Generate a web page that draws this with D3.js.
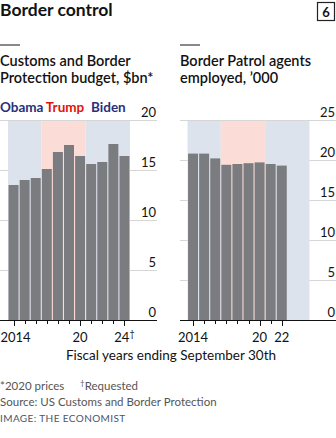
<!DOCTYPE html>
<html>
<head>
<meta charset="utf-8">
<script src="https://cdn.jsdelivr.net/npm/d3@7"></script>
<style>
  body { margin: 0; background: #fff; }
  svg text { font-family: Lato, "Noto Sans", sans-serif; }
</style>
</head>
<body>
<svg id="chart" width="336" height="438"></svg>
<script>
// data
var years = [2014, 2015, 2016, 2017, 2018, 2019, 2020, 2021, 2022, 2023, 2024];
var budget = [13.5, 14.0, 14.2, 15.1, 16.8, 17.5, 16.4, 15.6, 15.8, 17.6, 16.4];
var agentYears = [2014, 2015, 2016, 2017, 2018, 2019, 2020, 2021, 2022];
var agents = [20.8, 20.8, 20.2, 19.4, 19.5, 19.6, 19.7, 19.5, 19.3];
var termNames = ["Obama", "Trump", "Biden"];
var termFrom = [2014, 2017, 2021];
var termTo = [2016, 2020, 2024];
var budgetTicks = [0, 5, 10, 15, 20];
var agentTicks = [0, 5, 10, 15, 20, 25];
var budgetXLabels = {2014: "2014", 2020: "20", 2024: "24"};
var agentXLabels = {2014: "2014", 2020: "20", 2022: "22"};

var bandFill = {Obama: "#dde3ed", Trump: "#fbdcd6", Biden: "#dde3ed"};
var nameColor = {Obama: "#28307a", Trump: "#e3120b", Biden: "#28307a"};

var svg = d3.select("#chart");

// header
svg.append("text").attr("x", 0).attr("y", 16)
  .attr("font-size", 17.5).attr("font-weight", 700).attr("fill", "#121212")
  .text("Border control");
svg.append("rect").attr("x", 317.5).attr("y", 2.5).attr("width", 17).attr("height", 18)
  .attr("fill", "none").attr("stroke", "#222").attr("stroke-width", 1.2);
svg.append("text").attr("x", 326).attr("y", 16.5).attr("text-anchor", "middle")
  .attr("font-size", 13).attr("font-weight", 700).attr("fill", "#121212").text("6");

// panel subtitles
function subtitle(x, lines) {
  svg.append("line").attr("x1", x).attr("x2", x + 20).attr("y1", 45).attr("y2", 45)
    .attr("stroke", "#121212").attr("stroke-width", 1);
  lines.forEach(function(l, i) {
    svg.append("text").attr("x", x).attr("y", 66 + i * 17)
      .attr("font-size", 14.5).attr("font-weight", 600).attr("fill", "#121212").text(l);
  });
}
subtitle(0, ["Customs and Border", "Protection budget, $bn*"]);
subtitle(180, ["Border Patrol agents", "employed, \u2019000"]);

function panel(opts) {
  var x = d3.scaleBand().domain(years).range(opts.xr).paddingInner(0.1).paddingOuter(0.05);
  var y = d3.scaleLinear().domain([0, d3.max(opts.ticks)]).range([320, 120]);
  var step = x.step();
  var g = svg.append("g");

  // gridlines
  g.selectAll(".grid").data(opts.ticks.filter(function(t) { return t > 0; }))
    .enter().append("line")
    .attr("x1", opts.gx[0]).attr("x2", opts.gx[1])
    .attr("y1", function(d) { return y(d) + 0.5; }).attr("y2", function(d) { return y(d) + 0.5; })
    .attr("stroke", "#d6d6d6").attr("stroke-width", 1);

  // presidential terms
  termNames.forEach(function(n, i) {
    var x0 = x(termFrom[i]) - step * x.paddingInner() / 2;
    var x1 = x(termTo[i]) + x.bandwidth() + step * x.paddingInner() / 2;
    g.append("rect").attr("x", x0).attr("y", y.range()[1] + 1)
      .attr("width", x1 - x0).attr("height", y(0) - y.range()[1] - 1)
      .attr("fill", bandFill[n]);
  });

  // bars
  g.selectAll(".bar").data(opts.values).enter().append("rect")
    .attr("x", function(d, i) { return x(opts.years[i]); })
    .attr("y", function(d) { return y(d); })
    .attr("width", x.bandwidth())
    .attr("height", function(d) { return y(0) - y(d); })
    .attr("fill", "#7a7c80");

  // y tick labels
  g.selectAll(".ylab").data(opts.ticks).enter().append("text")
    .attr("x", opts.gx[1] - 1).attr("y", function(d) { return y(d) - 3; })
    .attr("text-anchor", "end").attr("font-size", 13).attr("fill", "#121212")
    .text(function(d) { return d; });

  // baseline
  g.append("line").attr("x1", opts.gx[0]).attr("x2", opts.gx[1])
    .attr("y1", y(0) + 0.5).attr("y2", y(0) + 0.5)
    .attr("stroke", "#121212").attr("stroke-width", 1);

  // x ticks
  g.selectAll(".xt").data(opts.years).enter().append("line")
    .attr("x1", function(d) { return Math.round(x(d) + x.bandwidth() / 2) + 0.5; })
    .attr("x2", function(d) { return Math.round(x(d) + x.bandwidth() / 2) + 0.5; })
    .attr("y1", y(0) + 1)
    .attr("y2", function(d) { return y(0) + (opts.labels[d] ? 6 : 4); })
    .attr("stroke", "#121212").attr("stroke-width", 1);

  var lab = g.selectAll(".xl").data(opts.years.filter(function(d) { return opts.labels[d]; }))
    .enter().append("text")
    .attr("x", function(d) { return x(d) + x.bandwidth() / 2; })
    .attr("y", 342).attr("text-anchor", "middle")
    .attr("font-size", 13).attr("fill", "#121212")
    .text(function(d) { return opts.labels[d]; });
  if (opts.dagger) {
    lab.filter(function(d) { return d === opts.dagger; })
      .append("tspan").attr("dy", -5).attr("font-size", 9).text("\u2020");
  }
  // keep first label inside the picture
  lab.each(function() {
    var b = this.getBBox();
    if (b.x < 0.5) d3.select(this).attr("x", +d3.select(this).attr("x") + (0.5 - b.x));
  });
  return {x: x, y: y};
}

// left panel: 2014-2024 budget
var left = panel({
  years: years, values: budget, ticks: budgetTicks, labels: budgetXLabels,
  xr: [8, 130], gx: [0, 157], dagger: 2024
});
var right = panel({
  years: agentYears, values: agents, ticks: agentTicks, labels: agentXLabels,
  xr: [187.5, 309.5], gx: [180, 336]
});

// legend for terms
var legend = svg.append("text").attr("x", 0).attr("y", 111.5)
  .attr("font-size", 13.5).attr("font-weight", 700);
termNames.forEach(function(n, i) {
  legend.append("tspan").attr("fill", nameColor[n])
    .attr("dx", i === 0 ? 0 : (i === 2 ? 7 : 4)).text(n);
});

// x axis title
svg.append("text").attr("x", 171).attr("y", 360).attr("text-anchor", "middle")
  .attr("font-size", 13.5).attr("fill", "#121212").text("Fiscal years ending September 30th");

// footnotes
var fn = svg.append("text").attr("x", 0).attr("y", 390).attr("font-size", 11.5).attr("fill", "#555");
fn.append("tspan").text("*2020 prices");
fn.append("tspan").attr("x", 80).attr("dy", -4).attr("font-size", 8).text("\u2020");
fn.append("tspan").attr("dy", 4).text("Requested");
svg.append("text").attr("x", 0).attr("y", 406).attr("font-size", 11.5).attr("fill", "#555")
  .text("Source: US Customs and Border Protection");
svg.append("text").attr("x", 0).attr("y", 422).attr("font-size", 10).attr("fill", "#4a5568")
  .attr("letter-spacing", 0.4).text("IMAGE: THE ECONOMIST");
</script>
</body>
</html>
